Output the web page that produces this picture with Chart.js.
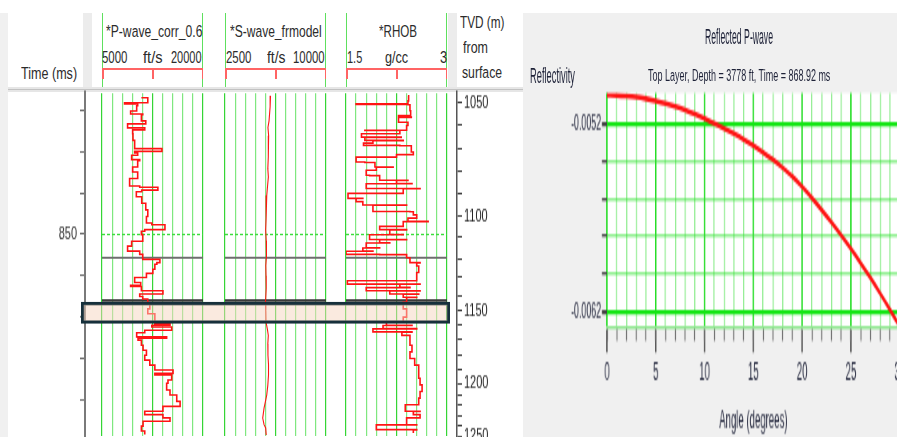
<!DOCTYPE html>
<html>
<head>
<meta charset="utf-8">
<title>Reflected P-wave</title>
<script src="https://cdn.jsdelivr.net/npm/chart.js@4.4.1/dist/chart.umd.min.js"></script>
<style>
  html, body { margin: 0; padding: 0; }
  body { width: 897px; height: 437px; overflow: hidden; position: relative; background: #ffffff; }
  .blk { position: absolute; }
  .wrap { position: absolute; transform-origin: 0 0; }
  .wrap canvas { display: block; }
  .lbl { position: absolute; white-space: nowrap; color: #2b2b2b; transform-origin: 0 50%; }
</style>
</head>
<body>
<!-- panel backgrounds -->
<div class="blk" style="left:0;top:13px;width:8px;height:424px;background:#f0f0f0"></div>
<div class="blk" style="left:523px;top:13px;width:374px;height:424px;background:#f0f0f0"></div>
<div class="blk" style="left:83px;top:13px;width:9px;height:74px;background:#ececec"></div>
<div class="blk" style="left:448px;top:13px;width:9px;height:74px;background:#ececec"></div>
<div class="blk" style="left:8px;top:87px;width:515px;height:5px;background:#e6e6e6"></div>
<div class="blk" style="left:8px;top:89px;width:515px;height:1px;background:#c2c2c2"></div>

<script>
// ---- well log: two-way time (ms) axis ----
const timeTicks = [820, 830, 840, 850, 860, 870, 880, 890];
const timeLabels = ['', '', '', '850', '', '', '', ''];

// ---- TVD (m) axis, depth ticks and the time where each one sits ----
const tvdDepth = [1050, 1060, 1070, 1080, 1090, 1100, 1110, 1120, 1130, 1140, 1150,
                  1160, 1170, 1180, 1190, 1200, 1210, 1220, 1230, 1240, 1250];
const tvdTime = [818.4, 823.5, 829.5, 834.7, 840.0, 845.6, 850.4, 856.0, 860.2, 864.8, 868.4,
                 871.6, 875.4, 879.0, 882.5, 885.9, 888.8, 891.2, 893.6, 896.1, 898.6];

// ---- horizontal markers across the tracks (ms) and the highlighted layer ----
const markerTimes = [850.0, 855.6, 866.0];
const zoneTimes = [866.3, 871.45];

// ---- P-wave velocity log (ft/s) ----
const pTime = [816.8, 818.0, 818.3, 818.75, 820.0, 820.75, 820.9, 822.4, 823.15, 824.1, 824.6, 825.55,
  827.15, 829.15, 829.8, 830.2, 830.75, 831.8, 832.1, 833.6, 834.8, 836.4, 838.2, 838.5, 839.2, 839.6,
  840.8, 842.4, 844.0, 845.6, 847.2, 847.6, 848.8, 849.2, 850.0, 851.6, 852.8, 854.0, 854.8, 856.0,
  856.8, 857.2, 858.4, 859.4, 860.4, 861.6, 862.3, 862.6, 863.6, 864.4, 865.0, 865.6, 866.8, 868.0,
  869.2, 870.4, 871.6, 872.0, 872.4, 873.2, 873.8, 874.8, 875.1, 875.6, 876.85, 878.05, 879.25, 880.45,
  881.65, 882.85, 883.65, 884.05, 885.25, 886.05, 887.7, 888.9, 890.45, 891.65, 892.85, 893.65, 894.45,
  895.25, 896.45, 897.65, 898.5];
const pVelocity = [10850, 11800, 8350, 10300, 10150, 9250, 11050, 10850, 11500, 8800, 11350, 9550,
  9600, 9850, 13900, 9850, 10300, 9400, 10600, 10300, 9550, 10300, 9100, 10600, 13300, 10900,
  10100, 10900, 11500, 11800, 11600, 12400, 14350, 11350, 10850, 11050, 9400, 8800, 10600, 11050,
  13600, 13150, 12850, 12550, 11600, 9850, 10750, 9250, 10850, 14050, 10600, 11050, 11800, 12100,
  11800, 12850, 12850, 15100, 12400, 15350, 11350, 10150, 14600, 10350, 10850, 11100, 11600, 11350,
  12100, 12850, 15550, 12850, 15350, 14800, 14600, 15100, 16100, 16600, 14050, 11350, 14050,
  15100, 11100, 10850, 11350];

// ---- S-wave velocity from model (ft/s) ----
const sTime = [816.3, 819.0, 822.4, 824.0, 826.0, 828.5, 831.2, 834.0, 836.0, 838.4, 840.5, 843.2,
  846.0, 848.8, 851.5, 855.2, 857.5, 860.0, 863.0, 866.4, 868.5, 871.2, 873.0, 874.45, 876.5, 879.25,
  881.5, 884.05, 886.5, 888.9, 890.5, 892.1, 894.5, 896.1, 896.9, 898.6];
const sVelocity = [5880, 5850, 5770, 5690, 5740, 5700, 5730, 5680, 5720, 5655, 5600, 5545,
  5560, 5520, 5560, 5580, 5530, 5545, 5560, 5510, 5530, 5545, 5650, 5715, 5680, 5690,
  5730, 5730, 5680, 5600, 5500, 5400, 5300, 5400, 5520, 5560];

// ---- bulk density RHOB (g/cc) ----
const rhobTime = [816.35, 817.55, 818.3, 818.4, 818.5, 819.95, 821.15, 821.5, 821.6, 822.75, 823.55,
  824.7, 824.75, 824.85, 825.55, 826.35, 826.45, 827.15, 827.2, 827.8, 828.35, 828.45, 829.95, 830.6,
  831.2, 832.4, 832.5, 833.6, 833.65, 834.4, 835.6, 835.7, 836.8, 836.85, 837.6, 837.65, 838.8, 838.85,
  840.0, 841.2, 841.25, 842.0, 842.8, 842.85, 844.4, 844.45, 845.2, 846.0, 846.8, 846.85, 848.0, 848.8,
  848.85, 850.0, 850.05, 851.2, 851.25, 852.0, 852.05, 853.2, 853.25, 854.0, 854.05, 854.8, 854.85,
  855.6, 856.8, 856.85, 857.6, 859.2, 860.0, 861.2, 862.0, 862.05, 862.8, 862.85, 863.6, 863.65, 864.4,
  864.45, 865.2, 865.25, 866.4, 868.0, 870.0, 871.2, 872.0, 872.05, 872.8, 872.85, 873.6, 873.65,
  874.45, 875.65, 876.85, 878.45, 880.05, 881.65, 883.25, 884.85, 886.45, 888.05, 889.65, 891.25,
  892.85, 892.9, 893.65, 894.45, 896.1, 896.15, 897.3, 897.35, 898.1];
const rhobDensity = [2.42, 2.43, 2.42, 1.65, 2.42, 2.45, 2.46, 2.28, 2.47, 2.28, 2.42,
  2.40, 1.78, 2.30, 2.30, 1.73, 2.32, 1.78, 2.35, 1.90, 1.76, 2.30, 2.47, 2.50,
  2.25, 1.65, 1.78, 1.93, 2.20, 1.95, 1.80, 1.85, 2.00, 2.42, 2.25, 2.48, 1.80, 2.60,
  2.35, 1.53, 1.75, 1.65, 1.75, 2.40, 1.90, 2.45, 2.50, 2.55, 2.42, 2.72, 2.35, 2.00,
  2.40, 2.15, 2.35, 1.85, 2.40, 2.00, 2.15, 1.80, 2.00, 1.75, 1.90, 1.50, 2.00,
  2.40, 2.45, 2.60, 2.55, 2.58, 2.55, 2.55, 1.52, 2.60, 2.30, 2.45, 1.80, 2.60, 2.15,
  2.58, 2.35, 2.55, 2.40, 2.35, 2.40, 2.35, 2.10, 2.48, 2.05, 2.55, 1.90, 2.48,
  2.33, 2.45, 2.45, 2.48, 2.45, 2.52, 2.58, 2.58, 2.60, 2.63, 2.60, 2.58,
  2.38, 2.60, 2.50, 2.60, 2.40, 2.55, 1.95, 2.55, 2.50];

// ---- reflected P-wave: reflectivity vs incidence angle ----
const angles = [0, 1, 2, 3, 4, 5, 6, 7, 8, 9, 10, 11, 12, 13, 14, 15,
                16, 17, 18, 19, 20, 21, 22, 23, 24, 25, 26, 27, 28, 29, 30];
const reflectivity = [-0.005050, -0.005051, -0.005055, -0.005061, -0.005070, -0.005081, -0.005094,
  -0.005110, -0.005129, -0.005151, -0.005175, -0.005201, -0.005227, -0.005255, -0.005285, -0.005318,
  -0.005354, -0.005393, -0.005436, -0.005483, -0.005537, -0.005597, -0.005660, -0.005726, -0.005795,
  -0.005867, -0.005942, -0.006021, -0.006104, -0.006190, -0.006280];
const reflTicks = [-0.0062, -0.0060, -0.0058, -0.0056, -0.0054, -0.0052];
const reflTickLabels = ['-0.0062', '', '', '', '', '-0.0052'];

const fontStack = '"Liberation Sans", Arial, sans-serif';
Chart.defaults.font.family = fontStack;
Chart.defaults.animation = false;

// page y of the log display: 850 ms sits at y=234.4, 4.153 px per ms
const PX_PER_MS = 4.153;
const Y_AT_850 = 234.4;
function timeAtY(y) { return 850 + (y - Y_AT_850) / PX_PER_MS; }

// canvas in a wrapper that is stretched like the original screenshot
function makeCanvas(left, top, width, height, sx, sy) {
    const w = document.createElement('div');
    w.className = 'wrap';
    w.style.left = left + 'px';
    w.style.top = top + 'px';
    w.style.transform = `scale(${sx}, ${sy})`;
    const c = document.createElement('canvas');
    c.width = width;
    c.height = height;
    w.appendChild(c);
    document.body.appendChild(w);
    return c;
}

// stretch text to the box it has in the picture
function label(text, x0, x1, yc, size, sy, color) {
    const el = document.createElement('div');
    el.className = 'lbl';
    el.textContent = text;
    el.style.font = `${size}px ${fontStack}`;
    el.style.lineHeight = size + 'px';
    el.style.left = x0 + 'px';
    el.style.top = (yc - size / 2) + 'px';
    if (color) el.style.color = color;
    document.body.appendChild(el);
    const sx = (x1 - x0) / el.offsetWidth;
    el.style.transform = `scale(${sx}, ${sy})`;
}

function rect(left, top, width, height, color) {
    const d = document.createElement('div');
    d.className = 'blk';
    d.style.cssText = `left:${left}px;top:${top}px;width:${width}px;height:${height}px;background:${color}`;
    document.body.appendChild(d);
}

// after the first layout, set the time range so the chart area lines up with the page mapping
function fitTime(chart, wrapTop, sy) {
    const a = chart.chartArea;
    chart.options.scales.y.min = timeAtY(wrapTop + a.top * sy);
    chart.options.scales.y.max = timeAtY(wrapTop + a.bottom * sy);
    chart.update();
}

const quiet = { legend: { display: false }, tooltip: { enabled: false } };
const LOG_TOP = 92, LOG_BOTTOM = 437;

// ---------- log tracks ----------
const tracks = [
    { left: 100, times: pTime, values: pVelocity, min: 5000, max: 20000, stepped: true, lw: 1.6 },
    { left: 223, times: sTime, values: sVelocity, min: 2500, max: 10000, stepped: false, lw: 1.1 },
    { left: 344, times: rhobTime, values: rhobDensity, min: 1.5, max: 3, stepped: true, lw: 1.6 }
];
const markerStyles = [
    { color: '#3ddc3d', width: 1.5, dash: [3, 2] },
    { color: '#6e6e6e', width: 2, dash: [] },
    { color: '#3a3a3a', width: 2.5, dash: [] }
];

tracks.forEach(function(t) {
    const canvas = makeCanvas(t.left, LOG_TOP, 105, LOG_BOTTOM - LOG_TOP, 1, 1);
    const markers = markerTimes.map((mt, i) => ({
        data: [{ x: t.min, y: mt }, { x: t.max, y: mt }],
        showLine: true,
        borderColor: markerStyles[i].color,
        borderWidth: markerStyles[i].width,
        borderDash: markerStyles[i].dash,
        pointRadius: 0
    }));
    const chart = new Chart(canvas, {
        type: 'scatter',
        data: {
            datasets: [{
                data: t.times.map((tm, i) => ({ x: t.values[i], y: tm })),
                showLine: true,
                stepped: t.stepped,
                borderColor: '#ff1414',
                borderWidth: t.lw,
                pointRadius: 0
            }].concat(markers)
        },
        options: {
            responsive: false,
            events: [],
            layout: { padding: { left: 2, right: 2, top: 0, bottom: 0 } },
            plugins: quiet,
            scales: {
                x: {
                    type: 'linear', min: t.min, max: t.max,
                    ticks: { display: false, count: 11 },
                    border: { display: false },
                    grid: {
                        drawTicks: false,
                        color: ctx => (ctx.index % 5 === 0) ? '#35d535' : '#7fe77f',
                        lineWidth: 1.2
                    }
                },
                y: { type: 'linear', reverse: true, display: false,
                     min: timeAtY(LOG_TOP), max: timeAtY(LOG_BOTTOM) }
            }
        }
    });
    fitTime(chart, LOG_TOP, 1);

    // header of the track: edge lines and the red scale bar
    const l = t.left + 2, r = t.left + 103, m = (l + r) / 2;
    rect(l, 13, 1, 74, '#5ee05e');
    rect(r - 1, 13, 1, 74, '#5ee05e');
    rect(l, 68, r - l, 2, '#ff6464');
    [l, m - 0.5, r - 1.5].forEach(x => rect(x, 68, 1.5, 11, '#ff6464'));
});

// header texts, boxes
const LH = 11, LSY = 1.45;
label('Time (ms)', 21, 77, 73, LH, LSY);
label('*P-wave_corr_0.6', 106, 202, 31.5, LH, LSY);
label('5000', 102, 127, 57.5, LH, LSY);
label('ft/s', 143, 163, 57.5, LH, LSY);
label('20000', 171, 202, 57.5, LH, LSY);
label('*S-wave_frmodel', 230, 322, 31.5, LH, LSY);
label('2500', 226, 251, 57.5, LH, LSY);
label('ft/s', 267, 286, 57.5, LH, LSY);
label('10000', 293, 325, 57.5, LH, LSY);
label('*RHOB', 379, 417, 31.5, LH, LSY);
label('1.5', 347, 362, 57.5, LH, LSY);
label('g/cc', 385, 408, 57.5, LH, LSY);
label('3', 440, 447, 57.5, LH, LSY);
label('TVD (m)', 460, 505, 22.5, LH, LSY);
label('from', 463, 488, 47, LH, LSY);
label('surface', 462, 502, 72, LH, LSY);

// ---------- time axis (left) ----------
const AX_SY = 1.6, AX_PAD = 10;
const axTop = LOG_TOP - AX_PAD * AX_SY;
const axH = Math.round((LOG_BOTTOM - LOG_TOP) / AX_SY + 2 * AX_PAD);

const timeCanvas = makeCanvas(0, axTop, 95, axH, 1, AX_SY);
const timeChart = new Chart(timeCanvas, {
    type: 'scatter',
    data: { datasets: [] },
    options: {
        responsive: false, events: [],
        layout: { padding: { top: AX_PAD, bottom: AX_PAD } },
        plugins: quiet,
        scales: {
            x: { display: false, min: 0, max: 1 },
            y: {
                type: 'linear', reverse: true,
                min: timeAtY(LOG_TOP), max: timeAtY(LOG_BOTTOM),
                afterFit: s => { s.width = 85; },
                afterBuildTicks: s => { s.ticks = timeTicks.map(v => ({ value: v })); },
                ticks: { autoSkip: false, padding: 3, color: '#333', font: { size: 11 },
                         callback: (v, i) => timeLabels[i] },
                grid: { drawOnChartArea: false, tickLength: 5, tickColor: '#666' },
                border: { color: '#7a7a7a', width: 2 }
            }
        }
    }
});
fitTime(timeChart, axTop, AX_SY);

// ---------- TVD axis (right of the tracks) ----------
const tvdCanvas = makeCanvas(447, axTop, 73, axH, 1, AX_SY);
const tvdChart = new Chart(tvdCanvas, {
    type: 'scatter',
    data: { datasets: [] },
    options: {
        responsive: false, events: [],
        layout: { padding: { top: AX_PAD, bottom: AX_PAD } },
        plugins: quiet,
        scales: {
            x: { display: false, min: 0, max: 1 },
            y: {
                type: 'linear', reverse: true, position: 'right',
                min: timeAtY(LOG_TOP), max: timeAtY(LOG_BOTTOM),
                afterFit: s => { s.width = 63; },
                afterBuildTicks: s => { s.ticks = tvdTime.map(v => ({ value: v })); },
                ticks: { autoSkip: false, padding: 2, color: '#222', font: { size: 11 },
                         callback: (v, i) => (tvdDepth[i] % 50 === 0 ? String(tvdDepth[i]) : '') },
                grid: { drawOnChartArea: false, tickLength: 5, tickColor: '#333' },
                border: { color: '#555', width: 1.5 }
            }
        }
    }
});
fitTime(tvdChart, axTop, AX_SY);

// ---------- highlighted layer (floating bar over all tracks) ----------
const zoneCanvas = makeCanvas(81, LOG_TOP, 369, LOG_BOTTOM - LOG_TOP, 1, 1);
const zoneChart = new Chart(zoneCanvas, {
    type: 'bar',
    data: {
        labels: ['layer'],
        datasets: [{
            data: [zoneTimes],
            backgroundColor: 'rgba(246, 214, 192, 0.5)',
            borderColor: '#16303b',
            borderWidth: 3,
            borderSkipped: false,
            barPercentage: 1,
            categoryPercentage: 1
        }]
    },
    options: {
        responsive: false, events: [],
        plugins: quiet,
        scales: {
            x: { display: false },
            y: { display: false, reverse: true, min: timeAtY(LOG_TOP), max: timeAtY(LOG_BOTTOM) }
        }
    }
});
fitTime(zoneChart, LOG_TOP, 1);

// ---------- reflected P-wave chart ----------
// drawn squeezed (0.8) and stretched (2) like the screenshot; sizes below are pre-transform
const R_SX = 0.8, R_SY = 2;
const R_LEFT = 527, R_W = 479, R_H = 219;
const reflMin = -0.006279, reflMax = -0.005039;

const plotBackground = {
    id: 'plotBackground',
    beforeDraw(chart) {
        const { ctx, chartArea: a } = chart;
        ctx.save();
        ctx.fillStyle = '#ffffff';
        ctx.fillRect(a.left, a.top, a.width, a.height);
        ctx.restore();
    }
};

const reflCanvas = makeCanvas(R_LEFT, 0, R_W, R_H, R_SX, R_SY);
new Chart(reflCanvas, {
    type: 'scatter',
    data: {
        datasets: [{
            data: angles.map((a, i) => ({ x: a, y: reflectivity[i] })),
            showLine: true,
            cubicInterpolationMode: 'monotone',
            borderColor: '#ff1212',
            borderWidth: 2.6,
            pointRadius: 0
        }]
    },
    options: {
        responsive: false, events: [],
        layout: { padding: { top: 46.5, right: 13.1, left: 0, bottom: 0 } },
        plugins: quiet,
        scales: {
            x: {
                type: 'linear', min: 0, max: 30,
                afterFit: s => { s.height = R_H - 163.25; },
                ticks: { stepSize: 1, autoSkip: false, maxRotation: 0, padding: 3,
                         color: '#1e2238', font: { size: 12 },
                         callback: v => (v % 5 === 0 ? String(v) : '') },
                grid: {
                    color: ctx => (ctx.tick && ctx.tick.value % 5 === 0) ? '#22dd22' : 'rgba(70, 225, 70, 0.6)',
                    lineWidth: ctx => (ctx.tick && ctx.tick.value % 5 === 0) ? 1.75 : 1.4,
                    tickLength: 13,
                    tickColor: ctx => (ctx.tick && ctx.tick.value % 5 === 0) ? '#555' : 'rgba(0,0,0,0)'
                },
                border: { color: '#8ee88e', width: 1.5 },
                title: { display: true, text: 'Angle (degrees)', color: '#1e2238',
                         font: { size: 12 }, padding: { top: 0, bottom: 1 } }
            },
            x2: {
                axis: 'x', type: 'linear', position: { y: reflMin }, min: 0, max: 30,
                ticks: { display: false, stepSize: 1 },
                grid: { drawOnChartArea: false, tickLength: 7.5, tickColor: '#666', tickWidth: 1.25 },
                border: { display: false }
            },
            y: {
                type: 'linear', min: reflMin, max: reflMax,
                afterFit: s => { s.width = 100; },
                afterBuildTicks: s => { s.ticks = reflTicks.map(v => ({ value: v })); },
                ticks: { autoSkip: false, padding: 1.25, color: '#1e2238', font: { size: 11 },
                         callback: (v, i) => reflTickLabels[i] },
                grid: {
                    color: ctx => reflTickLabels[ctx.index] ? '#14e614' : 'rgba(50, 225, 50, 0.55)',
                    lineWidth: ctx => reflTickLabels[ctx.index] ? 2.2 : 1.4,
                    tickLength: 6.25, tickColor: '#444'
                },
                border: { display: false }
            }
        }
    },
    plugins: [plotBackground]
});

label('Reflected P-wave', 705, 773, 36, 12, 1.9, '#1e2238');
label('Top Layer, Depth = 3778 ft, Time = 868.92 ms', 648, 830, 75, 12, 1.45, '#1e2238');
label('Reflectivity', 530, 575, 76, 12, 1.8, '#1e2238');
</script>
</body>
</html>
